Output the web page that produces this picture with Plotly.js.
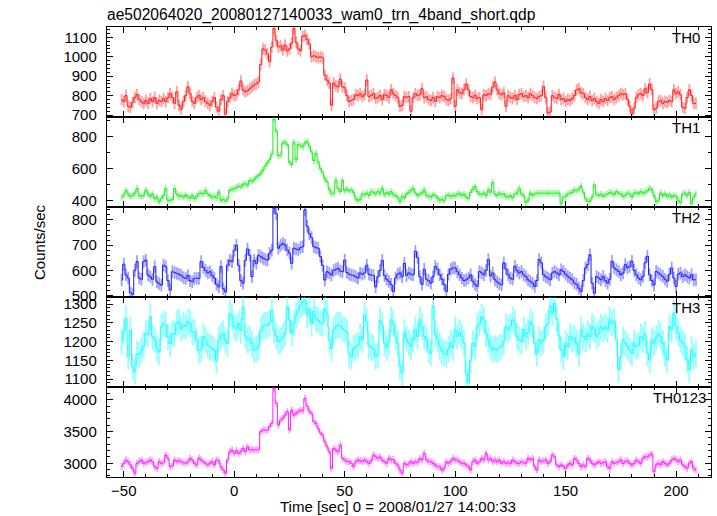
<!DOCTYPE html>
<html><head><meta charset="utf-8">
<script src="https://cdn.plot.ly/plotly-3.0.1.min.js"></script>
<style>html,body{margin:0;padding:0;background:#fff;} #chart{width:717px;height:516px;}</style>
</head><body><div id="chart"></div>
<script>
// time bins: centre of first bin and bin width [s]
const timeStart = -51;
const binSize = 1;

const th0 = [
 780, 770, 800, 745, 740, 765, 790, 805, 780, 770,
 760, 775, 760, 785, 770, 790, 760, 775, 770, 785,
 770, 790, 810, 790, 760, 820, 750, 730, 770, 800,
 845, 810, 770, 760, 790, 800, 780, 790, 770, 760,
 750, 770, 790, 740, 720, 780, 800, 705, 770, 790,
 810, 800, 805, 830, 875, 830, 820, 825, 835, 845,
 855, 860, 870, 960, 1040, 1035, 1015, 975, 1050, 1145,
 1085, 1050, 1055, 1035, 1060, 1030, 1040, 1070, 1145, 1075,
 1040, 1030, 1105, 1110, 1090, 1065, 1000, 1005, 1000, 995,
 1000, 995, 905, 880, 865, 750, 865, 850, 845, 885,
 845, 840, 800, 770, 775, 780, 805, 800, 810, 795,
 805, 880, 795, 800, 810, 785, 790, 800, 780, 805,
 800, 790, 830, 810, 800, 790, 745, 750, 795, 790,
 795, 720, 790, 810, 800, 805, 835, 790, 795, 780,
 775, 790, 770, 795, 790, 800, 795, 780, 775, 785,
 890, 745, 830, 815, 810, 830, 860, 830, 795, 790,
 800, 785, 790, 728, 805, 800, 810, 805, 845, 870,
 830, 810, 805, 815, 745, 800, 790, 785, 800, 780,
 805, 810, 795, 800, 790, 810, 800, 790, 785, 795,
 800, 847, 790, 710, 715, 800, 790, 785, 805, 780,
 785, 770, 780, 775, 785, 800, 830, 835, 815, 810,
 790, 780, 795, 775, 785, 770, 760, 780, 770, 785,
 775, 790, 795, 780, 790, 800, 810, 805, 810, 780,
 745, 705, 735, 790, 805, 810, 800, 835, 815, 860,
 830, 728, 735, 770, 775, 760, 770, 765, 775, 770,
 830, 810, 820, 805, 740, 735, 790, 830, 800, 760,
 760];

const th1 = [
 420, 430, 462, 440, 425, 430, 445, 474, 430, 425,
 430, 465, 440, 425, 440, 410, 420, 390, 410, 430,
 474, 400, 400, 405, 474, 440, 425, 430, 420, 435,
 420, 415, 430, 410, 425, 440, 445, 440, 463, 440,
 430, 420, 425, 415, 453, 400, 405, 395, 410, 463,
 470, 473, 480, 490, 485, 500, 505, 495, 525, 520,
 530, 545, 555, 570, 590, 615, 635, 655, 690, 910,
 835, 680, 685, 760, 765, 750, 640, 625, 765, 655,
 750, 745, 735, 760, 770, 740, 705, 650, 695, 640,
 600, 575, 535, 518, 470, 442, 445, 526, 475, 455,
 526, 460, 470, 460, 465, 450, 410, 400, 405, 440,
 435, 445, 430, 455, 450, 440, 455, 445, 476, 435,
 450, 440, 455, 435, 430, 420, 392, 425, 415, 440,
 450, 460, 476, 445, 430, 440, 445, 466, 430, 425,
 420, 435, 430, 415, 400, 405, 398, 430, 434, 424,
 430, 428, 440, 445, 430, 440, 420, 413, 450, 470,
 487, 455, 440, 435, 445, 430, 466, 450, 512, 440,
 430, 445, 435, 440, 425, 420, 430, 415, 440, 445,
 476, 440, 430, 386, 400, 445, 430, 440, 445, 445,
 445, 445, 444, 446, 445, 444, 445, 446, 445, 378,
 420, 425, 440, 445, 450, 466, 460, 470, 490, 450,
 410, 392, 395, 420, 497, 440, 430, 440, 425, 435,
 440, 450, 445, 435, 455, 445, 440, 425, 430, 445,
 440, 420, 445, 450, 440, 455, 445, 450, 460, 476,
 466, 430, 392, 400, 445, 430, 440, 425, 435, 420,
 430, 425, 400, 386, 440, 445, 430, 450, 378, 420,
 440];

const th2 = [
 562, 625, 582, 570, 512, 505, 600, 635, 570, 565,
 635, 641, 582, 575, 565, 615, 555, 548, 542, 621,
 615, 560, 522, 595, 592, 588, 585, 580, 572, 568,
 580, 560, 555, 568, 570, 568, 635, 612, 600, 590,
 595, 580, 570, 545, 535, 615, 528, 515, 621, 640,
 635, 680, 700, 620, 560, 550, 640, 685, 660, 575,
 640, 628, 660, 655, 648, 645, 641, 668, 680, 846,
 825, 688, 700, 707, 700, 681, 668, 628, 688, 685,
 681, 690, 694, 840, 775, 745, 730, 694, 690, 688,
 655, 620, 562, 595, 590, 582, 600, 605, 608, 598,
 595, 641, 592, 585, 582, 580, 575, 570, 590, 585,
 590, 621, 585, 582, 580, 535, 575, 600, 640, 580,
 565, 557, 545, 517, 570, 585, 590, 575, 628, 580,
 590, 585, 583, 676, 650, 575, 545, 605, 565, 560,
 550, 575, 616, 605, 583, 565, 545, 517, 585, 605,
 610, 610, 595, 583, 570, 560, 563, 570, 583, 557,
 545, 537, 596, 590, 583, 600, 643, 578, 590, 563,
 555, 548, 543, 630, 605, 583, 570, 565, 616, 600,
 590, 596, 583, 576, 563, 557, 550, 537, 560, 643,
 630, 583, 575, 570, 563, 590, 596, 590, 583, 603,
 596, 585, 576, 570, 563, 550, 545, 530, 517, 560,
 610, 623, 662, 550, 510, 576, 570, 563, 576, 560,
 550, 565, 636, 610, 603, 596, 583, 590, 623, 610,
 616, 636, 600, 583, 570, 563, 576, 630, 656, 583,
 560, 543, 596, 590, 583, 576, 565, 557, 585, 610,
 570, 537, 585, 590, 576, 583, 576, 570, 583, 563,
 563];

const th3 = [
 1200, 1226, 1262, 1160, 1231, 1133, 1120, 1168, 1165, 1177,
 1190, 1222, 1220, 1266, 1213, 1204, 1182, 1173, 1240, 1248,
 1244, 1213, 1195, 1222, 1220, 1248, 1253, 1235, 1244, 1240,
 1253, 1248, 1226, 1226, 1204, 1177, 1180, 1213, 1204, 1190,
 1186, 1182, 1177, 1150, 1204, 1215, 1222, 1204, 1195, 1275,
 1266, 1240, 1235, 1248, 1230, 1293, 1215, 1204, 1208, 1195,
 1177, 1180, 1186, 1231, 1240, 1244, 1244, 1250, 1284, 1231,
 1215, 1200, 1204, 1213, 1222, 1293, 1257, 1222, 1248, 1271,
 1284, 1297, 1305, 1311, 1271, 1288, 1248, 1280, 1262, 1257,
 1250, 1248, 1288, 1275, 1204, 1182, 1231, 1240, 1244, 1244,
 1235, 1231, 1225, 1168, 1160, 1182, 1186, 1190, 1213, 1204,
 1271, 1253, 1190, 1185, 1182, 1160, 1165, 1257, 1244, 1196,
 1183, 1200, 1258, 1249, 1214, 1196, 1134, 1116, 1225, 1207,
 1196, 1187, 1205, 1232, 1214, 1258, 1240, 1214, 1205, 1178,
 1169, 1294, 1222, 1205, 1187, 1175, 1169, 1165, 1180, 1196,
 1185, 1232, 1214, 1225, 1214, 1196, 1116, 1090, 1150, 1196,
 1187, 1240, 1249, 1267, 1258, 1222, 1205, 1187, 1178, 1182,
 1178, 1183, 1187, 1200, 1240, 1232, 1240, 1258, 1249, 1214,
 1205, 1200, 1232, 1214, 1225, 1253, 1245, 1196, 1169, 1205,
 1196, 1205, 1240, 1249, 1294, 1276, 1303, 1260, 1215, 1178,
 1160, 1196, 1187, 1214, 1205, 1210, 1196, 1169, 1232, 1214,
 1205, 1222, 1214, 1240, 1232, 1214, 1222, 1240, 1232, 1240,
 1232, 1258, 1249, 1255, 1205, 1125, 1160, 1205, 1196, 1187,
 1178, 1169, 1196, 1187, 1190, 1214, 1205, 1220, 1169, 1151,
 1205, 1196, 1210, 1222, 1214, 1195, 1169, 1151, 1240, 1232,
 1276, 1240, 1222, 1205, 1196, 1187, 1151, 1125, 1178, 1160,
 1169];

const th0123 = [
 2950, 3000, 3053, 3026, 2974, 2920, 2842, 3000, 3026, 3053,
 3000, 3010, 3026, 3053, 3026, 2947, 2920, 3026, 3000, 3010,
 3131, 3079, 2947, 2960, 3053, 3026, 3040, 3026, 3010, 3000,
 3020, 3079, 3053, 3000, 2974, 3079, 3053, 3026, 3000, 2974,
 3000, 3026, 2974, 3053, 3040, 2947, 2895, 2842, 3053, 3183,
 3210, 3157, 3200, 3157, 3183, 3236, 3183, 3262, 3210, 3215,
 3210, 3215, 3215, 3500, 3526, 3526, 3520, 3578, 3631, 4184,
 3947, 3605, 3684, 3710, 3763, 3815, 3526, 3842, 3760, 3789,
 3815, 3842, 3830, 4026, 3900, 3820, 3789, 3658, 3631, 3552,
 3480, 3447, 3341, 3262, 3183, 2920, 3236, 3210, 3183, 3289,
 3079, 3053, 3026, 3026, 3000, 2947, 3026, 3053, 3040, 3026,
 3053, 3026, 3000, 3040, 3131, 3104, 3079, 3100, 3051, 3026,
 3000, 3079, 3053, 3060, 3000, 2974, 2894, 2842, 3000, 2974,
 2990, 3026, 3000, 3026, 3010, 3079, 3053, 3157, 3053, 3026,
 3026, 3000, 2974, 2947, 2947, 2894, 2920, 3026, 3000, 3026,
 3079, 3053, 3053, 3026, 3000, 3000, 2974, 2947, 2894, 3026,
 3053, 3000, 3026, 3079, 3053, 3157, 3053, 3079, 3026, 3053,
 3026, 3053, 3000, 3026, 3000, 3010, 3000, 3053, 3026, 3000,
 3000, 3026, 3010, 3000, 3079, 3053, 3079, 2947, 2894, 3053,
 3026, 3040, 3053, 3000, 3026, 3131, 3104, 2974, 2947, 2974,
 2947, 2920, 2974, 3000, 2974, 3079, 3053, 3000, 2947, 2974,
 2947, 3079, 3053, 3000, 2974, 3000, 3026, 3000, 3010, 3026,
 2947, 2920, 3026, 3000, 3010, 3026, 3053, 3000, 3026, 3040,
 3000, 2974, 3000, 3053, 3026, 3000, 3079, 3104, 3100, 3131,
 3145, 2867, 2974, 3000, 2974, 3026, 3000, 2974, 3000, 3053,
 3079, 3060, 3026, 3053, 2974, 2947, 2920, 3000, 3026, 2920,
 2894];

const panelNames = ['TH0', 'TH1', 'TH2', 'TH3', 'TH0123'];
const panelSeries = [th0, th1, th2, th3, th0123];
const errValues = [30, 21, 25, 35, 55];
const lineColors = ['#ff1a1a', '#1aee1a', '#1a1aff', '#1affff', '#ff1aff'];
const errColors = ['rgba(255,40,40,0.45)', 'rgba(40,235,40,0.45)', 'rgba(40,40,255,0.45)', 'rgba(40,255,255,0.5)', 'rgba(255,40,255,0.45)'];
const yRanges = [[690, 1153], [358, 924], [495, 851], [1079, 1319], [2784, 4205]];
const yDticks = [100, 200, 100, 50, 500];
const yMinor = [20, 100, 20, 10, 100];
const xRange = [-57.6, 215.8];

const times = th0.map((_, i) => timeStart + i * binSize);

const W = 717, H = 516, L = 107, R = 6, T = 27, B = 39;
const pw = W - L - R, ph = H - T - B;
const font = 'Liberation Sans, Arial, Helvetica, sans-serif';

const traces = [];
const layout = {
  width: W, height: H,
  margin: {l: L, r: R, t: T, b: B, pad: 0},
  paper_bgcolor: '#fff', plot_bgcolor: '#fff',
  showlegend: false,
  font: {family: font, size: 15, color: '#000'},
  title: {text: 'ae502064020_20080127140033_wam0_trn_4band_short.qdp',
          font: {family: font, size: 15.6, color: '#000'},
          xref: 'container', yref: 'container', x: L / W, xanchor: 'left', y: 1 - 15 / H, yanchor: 'middle'},
  annotations: []
};

const n = panelNames.length;
for (let k = 0; k < n; k++) {
  const id = k === 0 ? '' : String(k + 1);
  traces.push({
    x: times, y: panelSeries[k], type: 'scatter', mode: 'lines',
    xaxis: 'x' + id, yaxis: 'y' + id,
    line: {shape: 'hvh', width: 1, color: lineColors[k]},
    error_y: {type: 'constant', value: errValues[k], color: errColors[k], thickness: 1.8, width: 0},
    hoverinfo: 'skip'
  });
  const top = 1 - k / n, bot = 1 - (k + 1) / n;
  layout['xaxis' + id] = {
    domain: [0, 1], anchor: 'y' + id, range: xRange,
    tick0: 0, dtick: 50, ticks: 'inside', ticklen: 6, tickwidth: 1, tickcolor: '#000',
    minor: {dtick: 10, ticks: 'inside', ticklen: 3, tickwidth: 1, tickcolor: '#000', showgrid: false},
    showline: true, linecolor: '#000', linewidth: 1.2, mirror: 'allticks',
    showgrid: false, zeroline: false, showticklabels: k === n - 1,
    tickfont: {family: font, size: 15, color: '#000'}
  };
  if (k > 0) layout['xaxis' + id].matches = 'x';
  layout['yaxis' + id] = {
    domain: [bot, top], anchor: 'x' + id, range: yRanges[k],
    tick0: 0, dtick: yDticks[k], ticks: 'inside', ticklen: 6, tickwidth: 1, tickcolor: '#000',
    minor: {dtick: yMinor[k], ticks: 'inside', ticklen: 3, tickwidth: 1, tickcolor: '#000', showgrid: false},
    showline: true, linecolor: '#000', linewidth: 1.2, mirror: 'allticks',
    showgrid: false, zeroline: false, ticklabelstandoff: 6,
    tickfont: {family: font, size: 15, color: '#000'}
  };
  layout.annotations.push({
    text: panelNames[k], xref: 'paper', yref: 'paper',
    x: k === n - 1 ? (708 - L) / pw : (702 - L) / pw, xanchor: 'right',
    y: top - 10 / ph, yanchor: 'middle', showarrow: false,
    font: {family: font, size: 15, color: '#000'}
  });
}
layout.annotations.push({
  text: 'Time [sec] 0 = 2008/01/27 14:00:33', xref: 'paper', yref: 'paper',
  x: (398 - L) / pw, xanchor: 'center', y: (H - B - 506) / ph, yanchor: 'middle',
  showarrow: false, font: {family: font, size: 15, color: '#000'}
});
layout.annotations.push({
  text: 'Counts/sec', xref: 'paper', yref: 'paper', textangle: -90,
  x: (40 - L) / pw, xanchor: 'center', y: (H - B - 242) / ph, yanchor: 'middle',
  showarrow: false, font: {family: font, size: 15, color: '#000'}
});

Plotly.newPlot('chart', traces, layout, {staticPlot: true, displayModeBar: false});
</script>
</body></html>
